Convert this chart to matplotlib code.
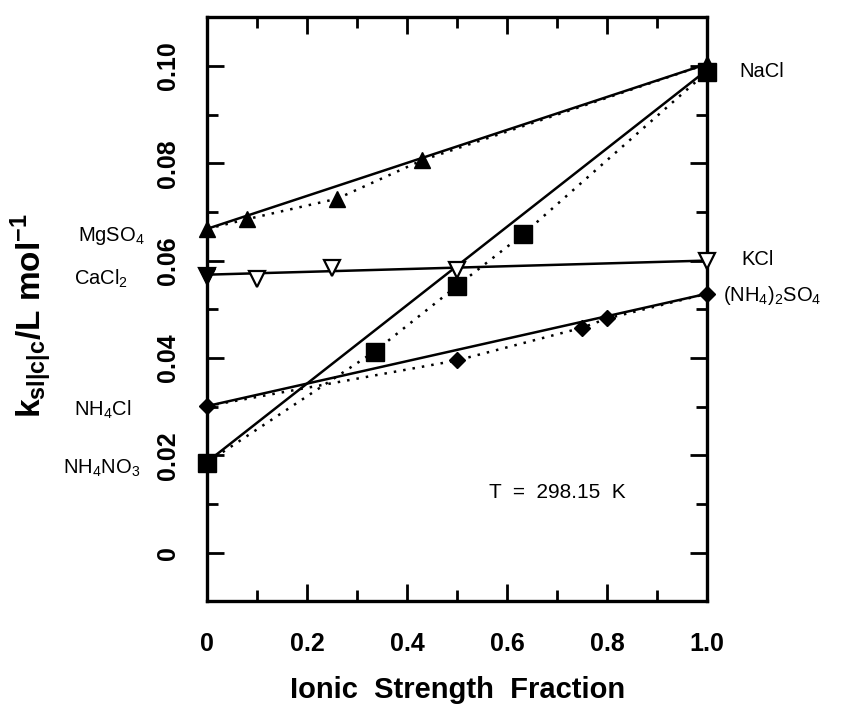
import matplotlib
matplotlib.use("Agg")
import matplotlib.pyplot as plt

plt.rcParams['font.family'] = ['Liberation Sans', 'DejaVu Sans']
plt.rcParams['mathtext.fontset'] = 'custom'
plt.rcParams['mathtext.rm'] = 'Liberation Sans'
plt.rcParams['mathtext.bf'] = 'Liberation Sans:bold'

# NaCl - MgSO4 (filled triangles)
tri_x = [0.0, 0.08, 0.26, 0.43, 1.0]
tri_y = [0.0665, 0.0685, 0.0727, 0.0806, 0.1004]
tri_line = [0.0665, 0.1004]

# KCl - CaCl2 (open down triangles)
kcl_x = [0.0, 0.1, 0.25, 0.5, 1.0]
kcl_y = [0.0569, 0.0562, 0.0585, 0.0581, 0.0599]
kcl_line = [0.0571, 0.0600]

# NaCl - NH4NO3 (squares)
sq_x = [0.0, 0.335, 0.5, 0.632, 1.0]
sq_y = [0.0185, 0.0413, 0.0548, 0.0654, 0.0988]
sq_line = [0.0186, 0.0992]

# (NH4)2SO4 - NH4Cl (diamonds)
dia_x = [0.0, 0.5, 0.75, 0.8, 1.0]
dia_y = [0.0301, 0.0395, 0.0462, 0.0481, 0.0532]
dia_line = [0.0301, 0.0532]

ends = [0.0, 1.0]
xticks = [0, 0.2, 0.4, 0.6, 0.8, 1.0]
xticklabels = ['0', '0.2', '0.4', '0.6', '0.8', '1.0']
yticks = [0, 0.02, 0.04, 0.06, 0.08, 0.10]
yticklabels = ['0', '0.02', '0.04', '0.06', '0.08', '0.10']

fig = plt.figure(figsize=(8.41, 7.15), dpi=100)
ax = fig.add_axes([0.246, 0.159, 0.595, 0.817])

lw = 1.8
dot = (0, (1, 2.8))

# solid straight lines between pure-salt endpoints
for line in [tri_line, kcl_line, sq_line, dia_line]:
    ax.plot(ends, line, color='black', lw=lw, zorder=2)

# dotted lines through measured points
ax.plot(tri_x, tri_y, color='black', lw=lw, ls=dot, zorder=2)
ax.plot(sq_x, sq_y, color='black', lw=lw, ls=dot, zorder=2)
ax.plot(dia_x, dia_y, color='black', lw=lw, ls=dot, zorder=2)

ax.plot(tri_x, tri_y, ls='none', marker='^', ms=11, color='black', zorder=3, clip_on=False)
ax.plot(kcl_x, kcl_y, ls='none', marker='v', ms=11, mfc='white', mec='black', mew=1.6,
        zorder=3, clip_on=False)
ax.plot(kcl_x[0], kcl_y[0], ls='none', marker='v', ms=11, color='black', zorder=3, clip_on=False)
ax.plot(sq_x, sq_y, ls='none', marker='s', ms=13, color='black', zorder=3, clip_on=False)
ax.plot(dia_x, dia_y, ls='none', marker='D', ms=8, color='black', zorder=3, clip_on=False)

ax.set_xlim(0, 1.0)
ax.set_ylim(-0.01, 0.11)
ax.set_xticks(xticks)
ax.set_xticklabels(xticklabels)
ax.set_xticks([0.1, 0.3, 0.5, 0.7, 0.9], minor=True)
ax.set_yticks(yticks)
ax.set_yticklabels(yticklabels, rotation=90, va='center')
ax.set_yticks([0.01, 0.03, 0.05, 0.07, 0.09], minor=True)

ax.tick_params(which='both', direction='in', top=True, right=True, width=2)
ax.tick_params(which='major', length=12)
ax.tick_params(which='minor', length=8)
ax.tick_params(axis='x', pad=22, labelsize=18)
ax.tick_params(axis='y', pad=19, labelsize=18)
for lab in ax.get_xticklabels() + ax.get_yticklabels():
    lab.set_fontweight('bold')
for sp in ax.spines.values():
    sp.set_linewidth(2.4)

ax.set_xlabel('Ionic  Strength  Fraction', fontsize=21, fontweight='bold')
ax.xaxis.set_label_coords(0.5, -0.128)
ax.set_ylabel(r'$\mathbf{k_{sl|c|c}}$/L mol$^{\mathbf{-1}}$', fontsize=24, fontweight='bold')
ax.yaxis.set_label_coords(-0.306, 0.49)

# salt labels
fs = 14.5
ax.text(-0.19, 0.0650, 'MgSO$_4$', fontsize=fs, ha='center', va='center', clip_on=False)
ax.text(-0.212, 0.0562, 'CaCl$_2$', fontsize=fs, ha='center', va='center', clip_on=False)
ax.text(-0.208, 0.0294, 'NH$_4$Cl', fontsize=fs, ha='center', va='center', clip_on=False)
ax.text(-0.21, 0.0174, 'NH$_4$NO$_3$', fontsize=fs, ha='center', va='center', clip_on=False)
ax.text(1.064, 0.0988, 'NaCl', fontsize=fs, ha='left', va='center', clip_on=False)
ax.text(1.068, 0.0603, 'KCl', fontsize=fs, ha='left', va='center', clip_on=False)
ax.text(1.032, 0.0528, '(NH$_4$)$_2$SO$_4$', fontsize=fs, ha='left', va='center', clip_on=False)

ax.text(0.70, 0.0123, 'T  =  298.15  K', fontsize=15, ha='center', va='center')

fig.savefig('out.png', dpi=100)
